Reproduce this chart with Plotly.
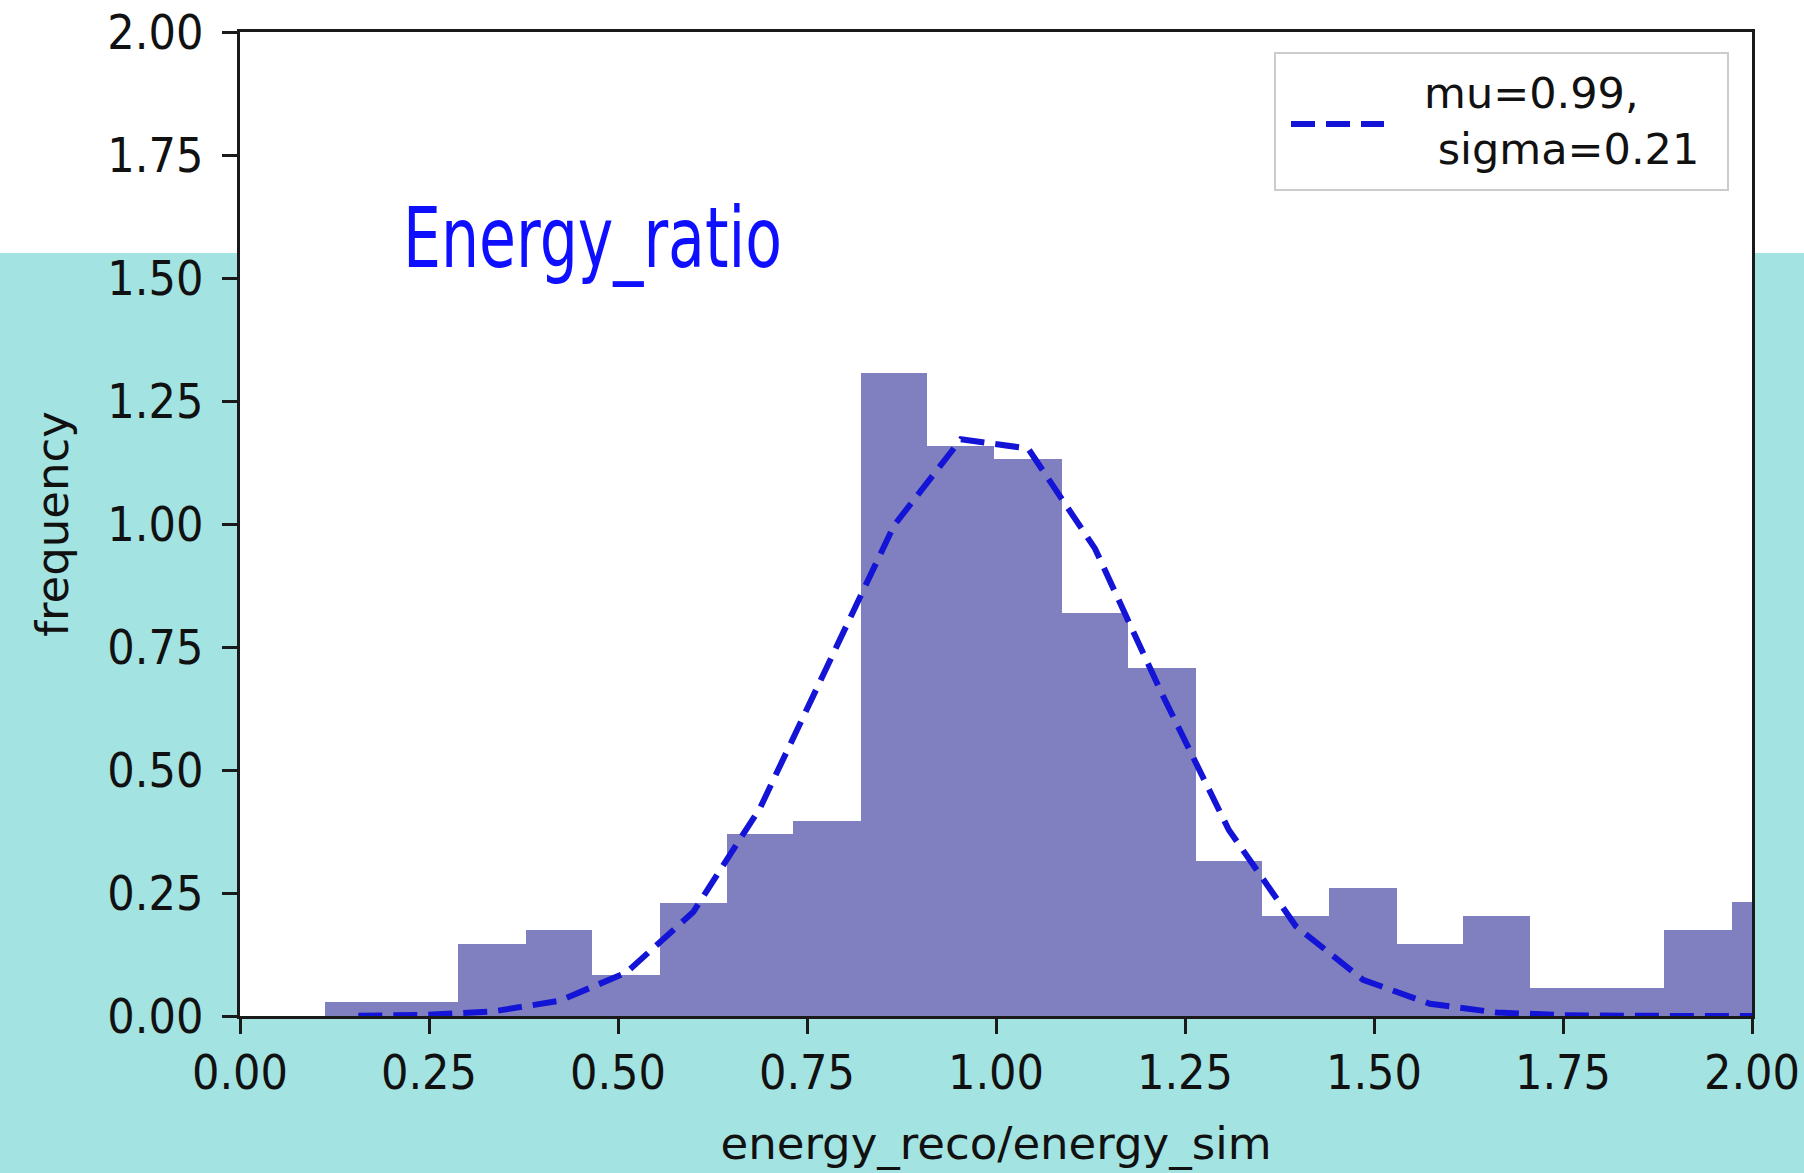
import numpy as np
import plotly.graph_objects as go

# Histogram of energy_reco/energy_sim (density-normalised)
bin_edges = [0.112, 0.201, 0.289, 0.378, 0.466, 0.555, 0.644, 0.732, 0.821,
             0.909, 0.998, 1.087, 1.175, 1.264, 1.352, 1.441, 1.530, 1.618,
             1.707, 1.795, 1.884, 1.973, 2.061]
density = [0.028, 0.028, 0.146, 0.175, 0.083, 0.230, 0.370, 0.396, 1.307,
           1.158, 1.132, 0.819, 0.707, 0.315, 0.203, 0.260, 0.146, 0.203,
           0.057, 0.057, 0.175, 0.232]

# Gaussian fit parameters
fit_mu = 0.99
fit_sigma = 0.21
fit_amplitude = 1.19

tick_vals = [0.0, 0.25, 0.5, 0.75, 1.0, 1.25, 1.5, 1.75, 2.0]

edges = np.array(bin_edges)
centers = (edges[:-1] + edges[1:]) / 2
widths = edges[1:] - edges[:-1]
fit_y = fit_amplitude * np.exp(-(centers - fit_mu) ** 2 / (2 * fit_sigma ** 2))

W, H = 1804, 1173
ML, MR, MT, MB = 240, 52, 32, 157
PW, PH = W - ML - MR, H - MT - MB


def px_x(p):
    return (p - ML) / PW


def px_y(p):
    return (H - MB - p) / PH


TEAL = "#a3e3e2"
FIT_COLOR = "rgb(20,20,215)"
TICK_FONT = dict(family="DejaVu Sans Condensed, DejaVu Sans, sans-serif", size=48, color="#111111")
LABEL_FONT = dict(family="DejaVu Sans, sans-serif", size=45, color="#111111")

fig = go.Figure()
fig.add_trace(go.Bar(
    x=centers, y=density, width=widths,
    marker=dict(color="rgb(128,128,192)", line=dict(width=0)),
    showlegend=False, hoverinfo="x+y",
))
fig.add_trace(go.Scatter(
    x=centers, y=fit_y, mode="lines",
    line=dict(color=FIT_COLOR, width=6, dash="24px,11px"),
    showlegend=False,
))

axis_common = dict(
    range=[0, 2], tickvals=tick_vals, tickformat=".2f",
    showgrid=False, zeroline=False,
    showline=True, linecolor="#1a1a1a", linewidth=3, mirror=True,
    ticks="outside", ticklen=15, tickwidth=3, tickcolor="#1a1a1a",
    tickfont=TICK_FONT,
)
fig.update_xaxes(**axis_common, ticklabelstandoff=-3,
                 title=dict(text="energy_reco/energy_sim", font=LABEL_FONT, standoff=29))
fig.update_yaxes(**axis_common, ticklabelstandoff=9,
                 title=dict(text="frequency", font=LABEL_FONT, standoff=25))

shapes = [
    # white band across the top of the page
    dict(type="rect", xref="paper", yref="paper", layer="below",
         x0=-0.2, x1=1.1, y0=px_y(253), y1=1.1,
         fillcolor="white", line=dict(width=0)),
    # legend frame
    dict(type="rect", xref="paper", yref="paper",
         x0=px_x(1275), x1=px_x(1728), y0=px_y(190), y1=px_y(53),
         fillcolor="rgba(255,255,255,0.85)", line=dict(color="#cccccc", width=2)),
    # legend line sample
    dict(type="line", xref="paper", yref="paper",
         x0=px_x(1291), x1=px_x(1384), y0=px_y(124), y1=px_y(124),
         line=dict(color=FIT_COLOR, width=6, dash="24px,11px")),
]

annotations = [
    dict(text=f"mu={fit_mu:.2f},<br>\u00a0sigma={fit_sigma:.2f}",
         xref="paper", yref="paper", x=px_x(1422), y=px_y(121),
         xanchor="left", yanchor="middle", align="left", showarrow=False,
         font=dict(family="DejaVu Sans, sans-serif", size=43, color="#111111")),
    dict(text="Energy_ratio", xref="paper", yref="paper",
         x=px_x(401), y=px_y(238), xanchor="left", yanchor="middle",
         showarrow=False,
         font=dict(family="DejaVu Sans Condensed, DejaVu Sans, sans-serif",
                   size=83, color="#0f0fff")),
]

fig.update_layout(
    width=W, height=H,
    margin=dict(l=ML, r=MR, t=MT, b=MB, autoexpand=False),
    paper_bgcolor=TEAL, plot_bgcolor="white",
    bargap=0, showlegend=False,
    shapes=shapes, annotations=annotations,
)

# Narrow the heading glyphs horizontally to a fixed drawn width
TITLE_WIDTH_PX = 379
post_js = """
var gd = document.getElementById('{plot_id}');
gd.querySelectorAll('text.annotation-text').forEach(function (t) {
  if (t.textContent === 'Energy_ratio') {
    var w = t.getBBox().width;
    if (w > 0) {
      t.style.transformBox = 'fill-box';
      t.style.transformOrigin = 'left center';
      t.style.transform = 'scaleX(' + (TARGET_W / w) + ')';
    }
  }
});
""".replace("TARGET_W", str(TITLE_WIDTH_PX))

fig.write_html("out.html", post_script=post_js)
